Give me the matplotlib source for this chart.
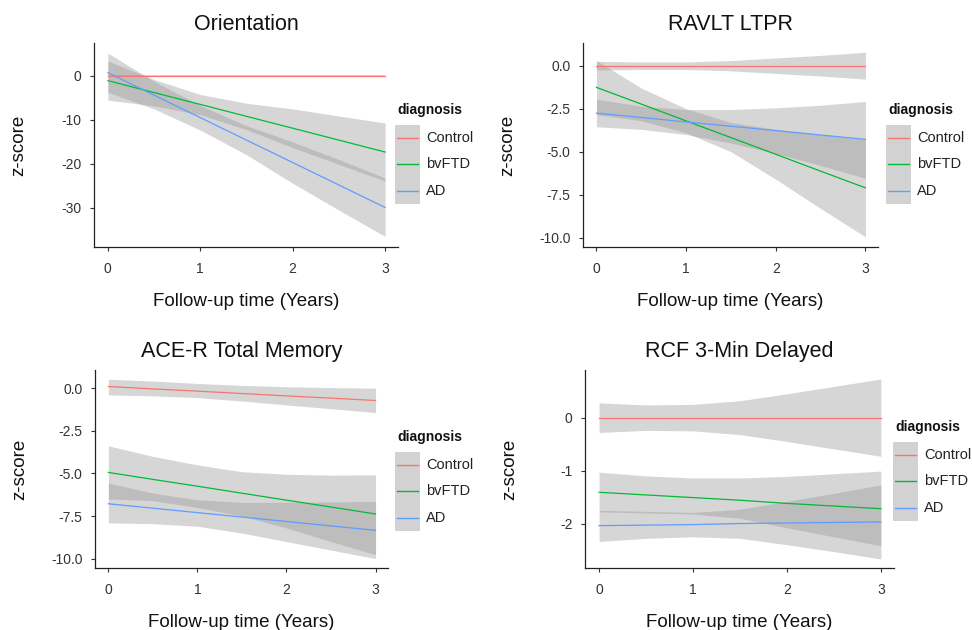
import matplotlib
matplotlib.use("Agg")
import matplotlib.pyplot as plt
from matplotlib.lines import Line2D
from matplotlib.patches import Rectangle

plt.rcParams['font.family'] = ['Liberation Sans', 'DejaVu Sans']
plt.rcParams['axes.unicode_minus'] = False

# follow-up times where values were read
t = [0, 0.5, 1, 1.5, 2, 2.5, 3]
groups = ['Control', 'bvFTD', 'AD']
colors = {'Control': '#F8766D', 'bvFTD': '#00BA38', 'AD': '#619CFF'}

# Orientation
ori_mean = {'Control': [0, 0, 0, 0, 0, 0, 0],
            'bvFTD': [-1.06, -3.77, -6.47, -9.18, -11.88, -14.59, -17.3],
            'AD': [0.75, -4.36, -9.47, -14.58, -19.69, -24.8, -29.9]}
ori_lo = {'Control': [-0.15, -0.15, -0.15, -0.15, -0.15, -0.15, -0.15],
          'bvFTD': [-5.5, -6.8, -8.8, -12.2, -16.3, -20.1, -23.9],
          'AD': [-3.7, -7.5, -12.3, -17.9, -24.4, -30.5, -36.5]}
ori_hi = {'Control': [0.15, 0.15, 0.15, 0.15, 0.15, 0.15, 0.15],
          'bvFTD': [3.4, -0.8, -4.2, -6.2, -7.5, -9.1, -10.7],
          'AD': [5.2, -1.2, -6.7, -11.3, -15.0, -19.0, -23.2]}

# RAVLT LTPR
rav_mean = {'Control': [0, 0, 0, 0, 0, 0, 0],
            'bvFTD': [-1.26, -2.23, -3.21, -4.18, -5.15, -6.13, -7.1],
            'AD': [-2.76, -3.01, -3.27, -3.52, -3.77, -4.03, -4.28]}
rav_lo = {'Control': [-0.25, -0.22, -0.22, -0.3, -0.45, -0.6, -0.78],
          'bvFTD': [-2.85, -3.2, -3.9, -5.0, -6.6, -8.3, -9.95],
          'AD': [-3.55, -3.7, -4.0, -4.5, -5.1, -5.8, -6.55]}
rav_hi = {'Control': [0.25, 0.22, 0.22, 0.3, 0.45, 0.6, 0.78],
          'bvFTD': [0.3, -1.3, -2.5, -3.3, -3.7, -4.0, -4.3],
          'AD': [-1.95, -2.35, -2.55, -2.55, -2.45, -2.3, -2.08]}

# ACE-R Total Memory
ace_mean = {'Control': [0.1, -0.04, -0.17, -0.31, -0.45, -0.58, -0.72],
            'bvFTD': [-4.94, -5.35, -5.75, -6.16, -6.57, -6.97, -7.38],
            'AD': [-6.78, -7.04, -7.3, -7.56, -7.82, -8.08, -8.34]}
ace_lo = {'Control': [-0.39, -0.45, -0.55, -0.75, -0.98, -1.2, -1.43],
          'bvFTD': [-6.5, -6.6, -7.0, -7.5, -8.2, -9.0, -9.77],
          'AD': [-7.9, -7.95, -8.1, -8.5, -9.0, -9.5, -10.0]}
ace_hi = {'Control': [0.53, 0.42, 0.28, 0.17, 0.09, 0.04, 0.0],
          'bvFTD': [-3.38, -4.0, -4.5, -4.9, -5.05, -5.1, -5.08],
          'AD': [-5.57, -6.15, -6.55, -6.7, -6.7, -6.67, -6.64]}

# RCF 3-Min Delayed
rcf_mean = {'Control': [0, 0, 0, 0, 0, 0, 0],
            'bvFTD': [-1.41, -1.46, -1.51, -1.56, -1.62, -1.67, -1.72],
            'AD': [-2.04, -2.03, -2.02, -2.0, -1.99, -1.98, -1.97]}
rcf_lo = {'Control': [-0.28, -0.24, -0.25, -0.32, -0.45, -0.59, -0.73],
          'bvFTD': [-1.78, -1.8, -1.82, -1.9, -2.08, -2.25, -2.42],
          'AD': [-2.34, -2.28, -2.25, -2.28, -2.4, -2.53, -2.67]}
rcf_hi = {'Control': [0.28, 0.24, 0.25, 0.32, 0.45, 0.59, 0.73],
          'bvFTD': [-1.03, -1.1, -1.14, -1.14, -1.11, -1.06, -1.01],
          'AD': [-1.75, -1.77, -1.79, -1.73, -1.58, -1.43, -1.27]}

panels = [
    ('Orientation', ori_mean, ori_lo, ori_hi, [0, -10, -20, -30], ['0', '-10', '-20', '-30'], (-38.9, 7.5)),
    ('RAVLT LTPR', rav_mean, rav_lo, rav_hi, [0, -2.5, -5, -7.5, -10], ['0.0', '-2.5', '-5.0', '-7.5', '-10.0'], (-10.54, 1.32)),
    ('ACE-R Total Memory', ace_mean, ace_lo, ace_hi, [0, -2.5, -5, -7.5, -10], ['0.0', '-2.5', '-5.0', '-7.5', '-10.0'], (-10.55, 1.07)),
    ('RCF 3-Min Delayed', rcf_mean, rcf_lo, rcf_hi, [0, -1, -2], ['0', '-1', '-2'], (-2.84, 0.9)),
]

W, H = 972, 630
# axes boxes in pixels: left, top, right, bottom
boxes = [(94, 43, 398, 247), (583, 43, 878, 247), (95, 370, 388, 568), (585, 370, 894, 568)]
# legend key block top-left in pixels
legend_pos = [(395, 125), (886, 125), (395, 452), (893, 442)]
KEY_W, KEY_H = 25, 26.3

fig = plt.figure(figsize=(W / 100, H / 100), dpi=100)


def px(x, y):
    return x / W, 1 - y / H


for (title, mean, lo, hi, yt, ytl, ylim), (l, tp, r, b), (kx, ky) in zip(panels, boxes, legend_pos):
    ax = fig.add_axes([l / W, 1 - b / H, (r - l) / W, (b - tp) / H])
    for g in groups:
        ax.fill_between(t, lo[g], hi[g], color='#999999', alpha=0.4, linewidth=0, zorder=1)
    for g in groups:
        ax.plot(t, mean[g], color=colors[g], lw=0.9, zorder=3)
    ax.set_xlim(-0.15, 3.14)
    ax.set_ylim(*ylim)
    ax.set_xticks([0, 1, 2, 3])
    ax.set_yticks(yt)
    ax.set_yticklabels(ytl)
    for s in ['top', 'right']:
        ax.spines[s].set_visible(False)
    for s in ['left', 'bottom']:
        ax.spines[s].set_linewidth(0.9)
        ax.spines[s].set_color('#222222')
    ax.tick_params(length=3, width=0.8, color='#333333', labelcolor='#333333', labelsize=10, pad=6)
    ax.tick_params(axis='x', pad=8)
    ax.set_title(title, fontsize=15.5, pad=9, color='#111111')
    ax.set_xlabel('Follow-up time (Years)', fontsize=13.5, labelpad=12, color='#111111')
    ax.set_ylabel('z-score', fontsize=13.5, color='#111111')
    ax.yaxis.set_label_coords(-67 / (r - l), 0.5)

    # legend: grey ribbon keys with coloured lines
    fig.text(*px(kx + 2, ky - 15), 'diagnosis', fontsize=10, fontweight='bold',
             color='#111111', ha='left', va='center')
    for i, g in enumerate(groups):
        y0 = ky + i * KEY_H
        fig.patches.append(Rectangle(px(kx, y0 + KEY_H), KEY_W / W, KEY_H / H,
                                     transform=fig.transFigure, facecolor='#d2d2d2',
                                     edgecolor='none'))
        yc = y0 + KEY_H / 2
        fig.lines.append(Line2D([(kx + 2) / W, (kx + KEY_W - 2) / W], [1 - yc / H] * 2,
                                transform=fig.transFigure, color=colors[g], lw=1.0))
        fig.text(*px(kx + KEY_W + 6, yc), g, fontsize=10.5, color='#222222',
                 ha='left', va='center')

fig.savefig('out.png', dpi=100)
